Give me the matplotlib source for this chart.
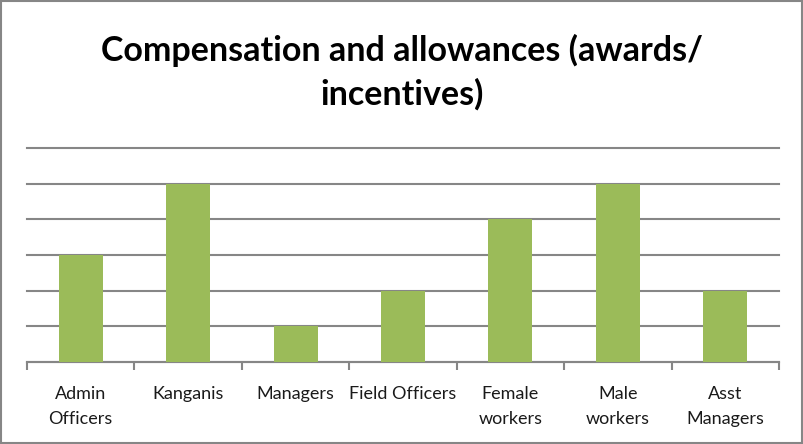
import matplotlib.pyplot as plt
import numpy as np

categories = ["Admin\nOfficers", "Kanganis", "Managers", "Field Officers",
              "Female\nworkers", "Male\nworkers", "Asst\nManagers"]
values = [3, 5, 1, 2, 4, 5, 2]

plt.rcParams['font.family'] = ['Lato', 'DejaVu Sans']

fig = plt.figure(figsize=(8.04, 4.44), dpi=100)
ax = fig.add_axes([27 / 804, 1 - 362 / 444, (779 - 27) / 804, (362 - 148) / 444])

x = np.arange(len(categories))
ax.bar(x, values, width=0.41, color='#9BBB59', zorder=3)

ax.set_xlim(-0.5, len(categories) - 0.5)
ax.set_ylim(0, 6)
ax.set_yticks(range(0, 7))
ax.yaxis.grid(True, color='#868686', linewidth=1.5, zorder=0)
for gl in ax.get_ygridlines():
    gl.set_clip_on(False)
ax.tick_params(axis='y', left=False, labelleft=False)

ax.set_xticks(x)
ax.set_xticklabels(categories, fontsize=13, color='#1a1a1a', linespacing=1.75)
ax.set_xticks(np.arange(-0.5, len(categories)), minor=True)
ax.tick_params(axis='x', which='major', length=0, pad=17)
ax.tick_params(axis='x', which='minor', length=6, width=1.5, color='#868686')

for side in ['top', 'left', 'right']:
    ax.spines[side].set_visible(False)
ax.spines['bottom'].set_color('#868686')
ax.spines['bottom'].set_linewidth(1.5)

fig.text(0.5, 1 - 61 / 444, "Compensation and allowances (awards/",
         ha='center', va='baseline', fontsize=24.5, fontweight='bold')
fig.text(0.5, 1 - 105 / 444, "incentives)",
         ha='center', va='baseline', fontsize=24.5, fontweight='bold')

border = plt.Rectangle((0.0015, 0.002), 0.996, 0.995, transform=fig.transFigure,
                       fill=False, edgecolor='#868686', linewidth=1.5)
fig.patches.append(border)

fig.savefig('out.png', dpi=100)
